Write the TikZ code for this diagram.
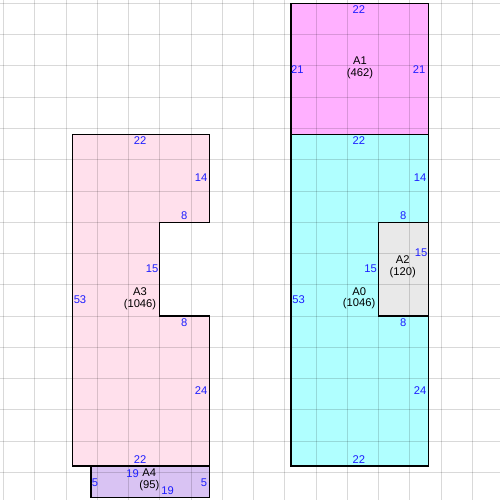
\documentclass[tikz,border=0pt]{standalone}
\usepackage{fontspec}
\setmainfont{Liberation Sans}
\usetikzlibrary{positioning}
\definecolor{roomcyan}{RGB}{176,255,255}
\definecolor{roommagenta}{RGB}{255,176,255}
\definecolor{roompink}{RGB}{255,224,236}
\definecolor{roomviolet}{RGB}{217,195,243}
\definecolor{roomgrey}{RGB}{233,233,233}
\definecolor{lenblue}{RGB}{30,30,255}

\begin{document}
\begin{tikzpicture}[x=6.25pt, y=-6.25pt,
        wall/.style={draw=black, line width=1.2pt},
        gridline/.style={draw=black, draw opacity=0.15, line width=1pt},
        len/.style={text=lenblue, inner sep=0pt, font=\fontsize{11.2}{12}\selectfont},
        tag/.style={align=center, inner sep=0pt, font=\fontsize{11.2}{11.8}\selectfont}]
        \useasboundingbox (-0.56,-0.56) rectangle (79.44,79.44);
        \fill[white] (-0.56,-0.56) rectangle (79.44,79.44);
        % rooms
        \fill[roommagenta] (46,0) rectangle (68,21);
        \fill[roomcyan] (46,21) rectangle (68,74);
        \fill[roomgrey] (60,35) rectangle (68,50);
        \fill[roompink] (11,21) -- (33,21) -- (33,35) -- (25,35) -- (25,50) -- (33,50) -- (33,74) -- (11,74) -- cycle;
        \fill[roomviolet] (14,74) rectangle (33,79);
        \foreach \g in {0,5,...,75} {
            \draw[gridline] (\g,-0.56) -- (\g,79.44);
            \draw[gridline] (-0.56,\g) -- (79.44,\g);
        }
        \draw[wall] (46,0) rectangle (68,21);
        \draw[wall] (46,21) rectangle (68,74);
        \draw[wall] (60,35) rectangle (68,50);
        \draw[wall] (11,21) -- (33,21) -- (33,35) -- (25,35) -- (25,50) -- (33,50) -- (33,74) -- (11,74) -- cycle;
        \draw[wall] (14,74) rectangle (33,79);
        % A1
        \node[tag] (a1) at (57.04,10.25) {A1\\(462)};
        \node[len] (a1t) at (56.84,1.04) {22};
        \node[len] (a1l) at (47.0,10.64) {21};
        \node[len] (a1r) at (66.5,10.64) {21};
        % A0
        \node[tag] (a0) at (56.9,47.15) {A0\\(1046)};
        \node[len] (a0t) at (56.84,22.0) {22};
        \node[len] (a0r1) at (66.64,27.9) {14};
        \node[len] (a0n1) at (63.97,34.0) {8};
        \node[len] (a0n2) at (58.75,42.5) {15};
        \node[len] (a0n3) at (63.97,51.07) {8};
        \node[len] (a0r2) at (66.64,62.0) {24};
        \node[len] (a0b) at (56.84,72.9) {22};
        \node[len] (a0l) at (47.2,47.44) {53};
        % A2
        \node[tag] (a2) at (63.87,42.15) {A2\\(120)};
        \node[len] (a2r) at (66.8,39.8) {15};
        % A3
        \node[tag] (a3) at (21.84,47.2) {A3\\(1046)};
        \node[len] (a3t) at (21.84,22.0) {22};
        \node[len] (a3r1) at (31.6,27.9) {14};
        \node[len] (a3n1) at (28.9,34.0) {8};
        \node[len] (a3n2) at (23.76,42.5) {15};
        \node[len] (a3n3) at (28.9,51.1) {8};
        \node[len] (a3r2) at (31.6,62.0) {24};
        \node[len] (a3b) at (21.84,72.9) {22};
        \node[len] (a3l) at (12.24,47.44) {53};
        % A4
        \node[tag] (a4) at (23.33,76.2) {A4\\(95)};
        \node[len] (a4t) at (20.67,75.17) {19};
        \node[len] (a4b) at (26.27,77.95) {19};
        \node[len] (a4l) at (14.64,76.6) {5};
        \node[len] (a4r) at (32.08,76.6) {5};
\end{tikzpicture}
\end{document}
